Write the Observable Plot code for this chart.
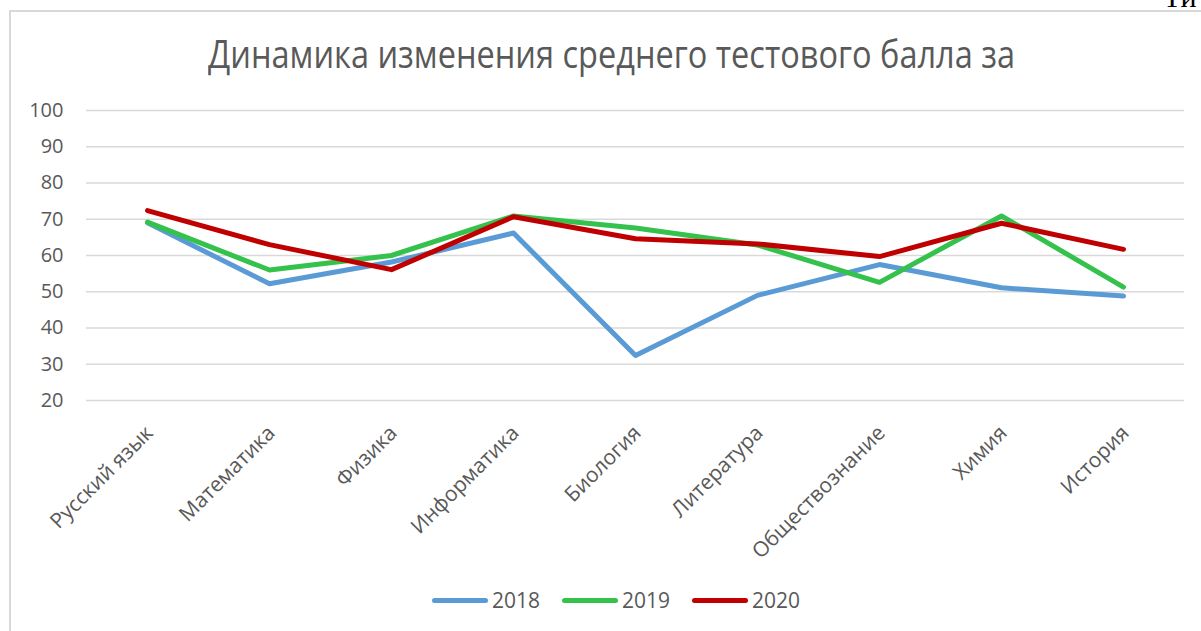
<!DOCTYPE html>
<html>
<head>
<meta charset="utf-8">
<script src="https://cdn.jsdelivr.net/npm/d3@7"></script>
<script src="https://cdn.jsdelivr.net/npm/@observablehq/plot@0.6"></script>
<style>
  html, body { margin: 0; padding: 0; background: #fff; overflow: hidden; width: 1201px; height: 631px; }
  #wrap { position: relative; width: 1201px; height: 631px; overflow: hidden; font-family: "Open Sans", sans-serif; }
  #frame { position: absolute; left: 9px; top: 10px; width: 1300px; height: 700px; border: 2px solid #d9d9d9; box-sizing: border-box; }
  #chart { position: absolute; left: 0; top: 0; }
  #title { position: absolute; top: 34px; left: 0; white-space: nowrap; font-size: 38px; line-height: 1; color: #595959; transform-origin: 0 0; }
  #corner { position: absolute; left: 1163px; top: -18px; font-family: "Liberation Serif", serif; font-size: 30px; line-height: 1; color: #000; }
  #legend { position: absolute; left: 432px; top: 586px; display: flex; align-items: center; height: 28px; font-size: 21px; color: #595959; }
  .item { display: flex; align-items: center; margin-right: 22px; }
  .swatch { width: 56px; height: 5px; border-radius: 3px; margin-right: 4px; }
</style>
</head>
<body>
<div id="wrap">
  <div id="frame"></div>
  <div id="corner">Ти</div>
  <div id="chart"></div>
  <div id="title"></div>
  <div id="legend"></div>
</div>
<script>
const titleText = "Динамика изменения среднего тестового балла за";
const categories = ["Русский язык", "Математика", "Физика", "Информатика", "Биология", "Литература", "Обществознание", "Химия", "История"];
const years = ["2018", "2019", "2020"];
const colors = ["#5B9BD5", "#34C24D", "#C00000"];
const values2018 = [69.0, 52.2, 58.2, 66.2, 32.4, 49.0, 57.5, 51.1, 48.8];
const values2019 = [69.2, 56.0, 60.0, 70.9, 67.6, 62.9, 52.6, 70.9, 51.3];
const values2020 = [72.4, 63.0, 56.1, 70.7, 64.6, 63.2, 59.7, 68.9, 61.7];
const yTicks = [20, 30, 40, 50, 60, 70, 80, 90, 100];

const series = [values2018, values2019, values2020];
const data = years.flatMap((yr, i) => categories.map((c, j) => ({year: yr, cat: c, value: series[i][j]})));

const chart = Plot.plot({
  width: 1201,
  height: 631,
  marginTop: 110,
  marginBottom: 231,
  marginLeft: 86,
  marginRight: 17,
  style: {fontFamily: "'Open Sans', sans-serif", fontSize: "20px", color: "#595959", background: "transparent", overflow: "visible"},
  x: {type: "point", domain: categories, padding: 0.5, axis: null},
  y: {domain: [20, 100], axis: null},
  color: {domain: years, range: colors},
  marks: [
    Plot.ruleY(yTicks, {stroke: "#d9d9d9", strokeWidth: 1.6}),
    Plot.axisY(yTicks, {tickSize: 0, tickPadding: 23, fontSize: 20, label: null, fill: "#595959"}),
    Plot.line(data, {x: "cat", y: "value", z: "year", stroke: "year", strokeWidth: 5, strokeLinecap: "round", strokeLinejoin: "round"}),
    Plot.text(categories, {x: d => d, y: () => 20, rotate: -45, textAnchor: "end", dx: 2, dy: 29, fontSize: 21, fill: "#595959"})
  ]
});
document.getElementById("chart").appendChild(chart);

// title
const t = document.getElementById("title");
t.textContent = titleText;
const w = t.getBoundingClientRect().width;
const target = 807;
t.style.transform = `scaleX(${target / w})`;
t.style.left = (611 - target / 2) + "px";

// legend
const lg = document.getElementById("legend");
years.forEach((yr, i) => {
  const it = document.createElement("div");
  it.className = "item";
  const sw = document.createElement("div");
  sw.className = "swatch";
  sw.style.background = colors[i];
  const tx = document.createElement("span");
  tx.textContent = yr;
  it.appendChild(sw);
  it.appendChild(tx);
  lg.appendChild(it);
});
</script>
</body>
</html>
